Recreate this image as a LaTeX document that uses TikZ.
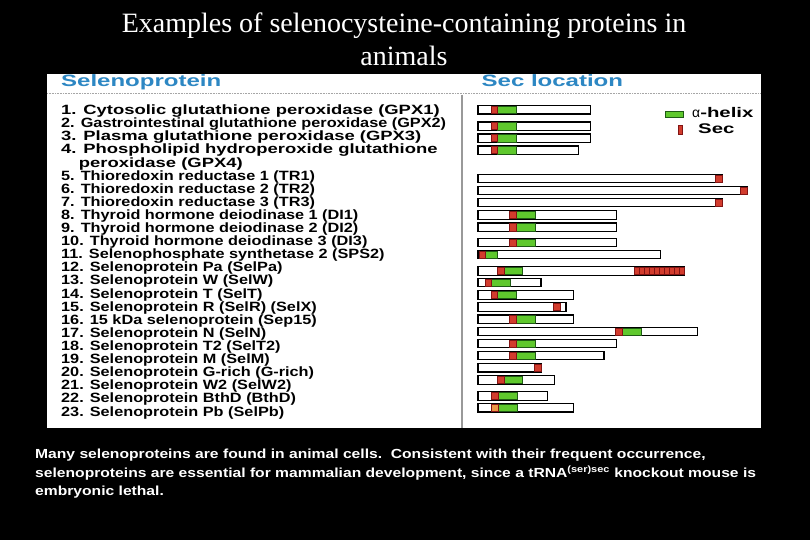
\documentclass[tikz,border=0pt]{standalone}
\usepackage{fontspec}
\setmainfont{Liberation Serif}
\newfontfamily\listfont[FakeStretch=1.21]{Liberation Sans}
\newfontfamily\widefont[FakeStretch=1.37]{Liberation Sans}
\newfontfamily\headfont[FakeStretch=1.46]{Liberation Sans}
\newfontfamily\capfont[FakeStretch=1.19]{Liberation Sans}
\newfontfamily\plainsans{Liberation Sans}

\definecolor{hdblue}{RGB}{45,135,195}
\definecolor{helixgreen}{RGB}{95,200,45}
\definecolor{helixdark}{RGB}{30,90,20}
\definecolor{secred}{RGB}{210,60,45}
\definecolor{secdark}{RGB}{130,20,20}
\definecolor{secorange}{RGB}{235,150,70}

\tikzset{
  listtext/.style={anchor=base west, inner sep=0pt, text=black,
    font=\listfont\bfseries\fontsize{13.5}{13.5}\selectfont},
  widetext/.style={listtext, font=\widefont\bfseries\fontsize{13.5}{13.5}\selectfont},
  headtext/.style={anchor=base west, inner sep=0pt, text=hdblue,
    font=\headfont\bfseries\fontsize{16.5}{16.5}\selectfont},
  legendtext/.style={anchor=base west, inner sep=0pt, text=black,
    font=\headfont\bfseries\fontsize{14}{14}\selectfont},
  captext/.style={anchor=base west, inner sep=0pt, text=white,
    font=\capfont\bfseries\fontsize{13.2}{13.2}\selectfont},
  titletext/.style={anchor=base, inner sep=0pt, text=white,
    font=\fontsize{28.1}{28.1}\selectfont},
  protbar/.style={draw=black, line width=1.1pt, fill=white},
  helix/.style={fill=helixgreen, draw=helixdark, line width=0.5pt},
  secmark/.style={fill=secred, draw=secdark, line width=0.6pt},
}

% bar: centre y, right end
\newcommand{\pbar}[2]{\draw[protbar] (478,{#1-4.2}) rectangle ({#2},{#1+4.2});}
% helix / sec block: centre y, from x, to x
\newcommand{\phelix}[3]{\draw[helix] ({#2},{#1-3.6}) rectangle ({#3},{#1+3.6});}
\newcommand{\psec}[3]{\draw[secmark] ({#2},{#1-3.6}) rectangle ({#3},{#1+3.6});}

\begin{document}
\begin{tikzpicture}[x=1bp, y=-1bp]
  \useasboundingbox (0,0) rectangle (810,540);
  \fill[black] (0,0) rectangle (810,540);

  % title
  \node[titletext] (title1) at (404,33) {Examples of selenocysteine-containing proteins in};
  \node[titletext] (title2) at (404,66) {animals};

  % panel
  \fill[white] (47,74) rectangle (761,428);
  \draw[gray!70, line width=0.6pt, densely dotted] (47,93.7) -- (761,93.7);
  \draw[gray!80, line width=1.2pt] (462,95) -- (462,428);
  \node[headtext] (hleft) at (61,87) {Selenoprotein};
  \node[headtext] (hright) at (481.5,87) {Sec location};

  % names
  \node[widetext] (p1) at (61,114.7) {1. Cytosolic glutathione peroxidase (GPX1)};
  \node[listtext] (p2) at (61,127.8) {2. Gastrointestinal glutathione peroxidase (GPX2)};
  \node[widetext] (p3) at (61,140.9) {3. Plasma glutathione peroxidase (GPX3)};
  \node[widetext] (p4) at (61,154.0) {4. Phospholipid hydroperoxide glutathione};
  \node[widetext] (p4b) at (78.7,167.1) {peroxidase (GPX4)};
  \node[listtext] (p5) at (61,180.2) {5. Thioredoxin reductase 1 (TR1)};
  \node[listtext] (p6) at (61,193.3) {6. Thioredoxin reductase 2 (TR2)};
  \node[listtext] (p7) at (61,206.4) {7. Thioredoxin reductase 3 (TR3)};
  \node[listtext] (p8) at (61,219.5) {8. Thyroid hormone deiodinase 1 (DI1)};
  \node[listtext] (p9) at (61,232.6) {9. Thyroid hormone deiodinase 2 (DI2)};
  \node[listtext] (p10) at (61,245.7) {10. Thyroid hormone deiodinase 3 (DI3)};
  \node[listtext] (p11) at (61,258.8) {11. Selenophosphate synthetase 2 (SPS2)};
  \node[listtext] (p12) at (61,271.9) {12. Selenoprotein Pa (SelPa)};
  \node[listtext] (p13) at (61,285.0) {13. Selenoprotein W (SelW)};
  \node[listtext] (p14) at (61,298.1) {14. Selenoprotein T (SelT)};
  \node[listtext] (p15) at (61,311.2) {15. Selenoprotein R (SelR) (SelX)};
  \node[listtext] (p16) at (61,324.3) {16. 15 kDa selenoprotein (Sep15)};
  \node[listtext] (p17) at (61,337.4) {17. Selenoprotein N (SelN)};
  \node[listtext] (p18) at (61,350.5) {18. Selenoprotein T2 (SelT2)};
  \node[listtext] (p19) at (61,363.6) {19. Selenoprotein M (SelM)};
  \node[listtext] (p20) at (61,376.7) {20. Selenoprotein G-rich (G-rich)};
  \node[listtext] (p21) at (61,389.8) {21. Selenoprotein W2 (SelW2)};
  \node[listtext] (p22) at (61,402.9) {22. Selenoprotein BthD (BthD)};
  \node[listtext] (p23) at (61,416.0) {23. Selenoprotein Pb (SelPb)};

  % bars
  \pbar{109.8}{590.7} \phelix{109.8}{497.3}{516} \psec{109.8}{491}{497.3}
  \pbar{126.2}{590.7} \phelix{126.2}{497.3}{516} \psec{126.2}{491}{497.3}
  \pbar{138.2}{590.7} \phelix{138.2}{497.3}{516} \psec{138.2}{491}{497.3}
  \pbar{150.2}{578.3} \phelix{150.2}{497.3}{516} \psec{150.2}{491}{497.3}
  \pbar{178.7}{722.7} \psec{178.7}{715}{722.7}
  \pbar{190.5}{747.3} \psec{190.5}{740}{747.3}
  \pbar{202.5}{722.7} \psec{202.5}{715}{722.7}
  \pbar{214.9}{616.7} \phelix{214.9}{516.7}{535} \psec{214.9}{509}{516.7}
  \pbar{227.2}{616.7} \phelix{227.2}{516.7}{535} \psec{227.2}{509}{516.7}
  \pbar{242.5}{616.7} \phelix{242.5}{516.7}{535} \psec{242.5}{509}{516.7}
  \pbar{254.5}{660.7} \phelix{254.5}{485}{497.7} \psec{254.5}{479}{485}
  \pbar{270.9}{684.3} \phelix{270.9}{504}{522.7} \psec{270.9}{497.3}{504}
  \foreach \k in {0,...,9}
    \psec{270.9}{634+5.03*\k}{634+5.03*(\k+1)}
  \pbar{282.5}{541} \phelix{282.5}{491.7}{510} \psec{282.5}{485}{491.7}
  \pbar{294.9}{573.3} \phelix{294.9}{497.3}{516.7} \psec{294.9}{491}{497.3}
  \pbar{307.1}{566} \psec{307.1}{553.3}{560}
  \pbar{319.2}{573.3} \phelix{319.2}{516.7}{535} \psec{319.2}{509.3}{516.7}
  \pbar{331.5}{697.7} \phelix{331.5}{622.7}{641.7} \psec{331.5}{615.7}{622.7}
  \pbar{343.5}{616.7} \phelix{343.5}{516.7}{535} \psec{343.5}{509}{516.7}
  \pbar{355.5}{604} \phelix{355.5}{516.7}{535} \psec{355.5}{509}{516.7}
  \pbar{367.8}{541.7} \psec{367.8}{534}{541.7}
  \pbar{380}{554.3} \phelix{380}{504.3}{522.7} \psec{380}{497.3}{504.3}
  \pbar{395.9}{547.7} \phelix{395.9}{498.3}{517.3} \psec{395.9}{491}{498.3}
  \pbar{407.8}{573.3} \phelix{407.8}{498.3}{517.3}
  \draw[secmark, fill=secorange] (491,404.2) rectangle (498.3,411.4);

  % legend
  \draw[helix] (665,111) rectangle (683.3,117.7);
  \node[legendtext] (lhelix) at (692,118) {{\plainsans\mdseries α}-helix};
  \draw[secmark] (678.3,125.3) rectangle (682.7,134.3);
  \node[legendtext] (lsec) at (698,133.7) {Sec};

  % caption
  \node[captext] (cap1) at (35,458.3) {Many selenoproteins are found in animal cells.\ \ Consistent with their frequent occurrence,};
  \node[captext] (cap2) at (35,477.2) {selenoproteins are essential for mammalian development, since a tRNA\textsuperscript{(ser)sec} knockout mouse is};
  \node[captext] (cap3) at (35,495.5) {embryonic lethal.};
\end{tikzpicture}
\end{document}
